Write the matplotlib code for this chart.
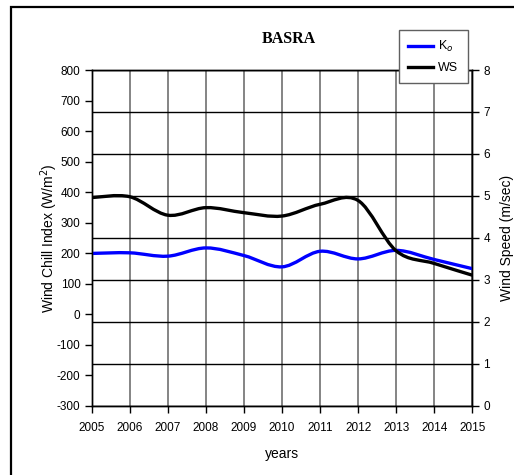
import numpy as np
import matplotlib.pyplot as plt
from matplotlib.path import Path
from matplotlib.patches import PathPatch, Rectangle
from matplotlib.lines import Line2D

plt.rcParams['font.family'] = ['Liberation Sans', 'DejaVu Sans']
plt.rcParams['axes.unicode_minus'] = False

# Data
years = [2005, 2006, 2007, 2008, 2009, 2010, 2011, 2012, 2013, 2014, 2015]
ko = [199, 201, 190, 217, 192, 155, 206, 181, 209, 179, 149]          # W/m2, left axis
ws = [4.96, 4.98, 4.54, 4.72, 4.60, 4.52, 4.80, 4.89, 3.69, 3.39, 3.11]  # m/sec, right axis

left_ticks = [-300, -200, -100, 0, 100, 200, 300, 400, 500, 600, 700, 800]
right_ticks = [0, 1, 2, 3, 4, 5, 6, 7, 8]


# Excel-like smoothed line: bezier segments through the data points
def smooth_path(x, y):
    pts = np.column_stack([x, y]).astype(float)
    n = len(pts)
    verts = [pts[0]]
    codes = [Path.MOVETO]
    for i in range(n - 1):
        p0 = pts[max(i - 1, 0)]
        p1 = pts[i]
        p2 = pts[i + 1]
        p3 = pts[min(i + 2, n - 1)]
        verts += [p1 + (p2 - p0) / 6, p2 - (p3 - p1) / 6, p2]
        codes += [Path.CURVE4] * 3
    return Path(verts, codes)


fig = plt.figure(figsize=(5.14, 4.75), dpi=100)
ax = fig.add_axes([0.1784, 0.1459, 0.7405, 0.7067])
ax2 = ax.twinx()

# Left axis (wind chill)
ax.set_xlim(2005, 2015)
ax.set_ylim(-300, 800)
ax.set_yticks(left_ticks)
ax.set_xticks(years)
ax.xaxis.grid(True, color='#707070', lw=1.2)
ax.tick_params(axis='both', labelsize=8.5, length=5, width=1, direction='out', pad=3)
ax.tick_params(axis='x', pad=7)
ax.set_ylabel('Wind Chill Index (W/m$^2$)', fontsize=10, labelpad=-2)
ax.set_xlabel('years', fontsize=10, labelpad=9)

# Right axis (wind speed)
ax2.set_ylim(0, 8)
ax2.set_yticks(right_ticks)
ax2.yaxis.grid(True, color='black', lw=1.0)
ax2.tick_params(axis='y', labelsize=8.5, length=5, width=1, direction='out', pad=3)
ax2.set_ylabel('Wind Speed (m/sec)', fontsize=10, labelpad=7)

for a in (ax, ax2):
    for s in a.spines.values():
        s.set_linewidth(1.0)
        s.set_color('black')
ax.set_axisbelow(True)

ax.add_patch(PathPatch(smooth_path(years, ko), fill=False, edgecolor='#0000ff',
                       lw=2.4, capstyle='butt', zorder=3))
ax2.add_patch(PathPatch(smooth_path(years, ws), fill=False, edgecolor='black',
                        lw=2.4, capstyle='butt', zorder=3))

# Title
fig.text(0.561, 0.918, 'BASRA', family=['Liberation Serif', 'DejaVu Serif'],
         fontweight='bold', fontsize=11.5, ha='center', va='center')

# Legend
handles = [Line2D([], [], color='#0000ff', lw=2.4), Line2D([], [], color='black', lw=2.4)]
leg = fig.legend(handles, ['K$_o$', 'WS'], loc='upper left',
                 bbox_to_anchor=(399 / 514, 1 - 30 / 475), fontsize=9,
                 handlelength=1.95, handletextpad=0.45, borderpad=0.75,
                 labelspacing=0.6, borderaxespad=0,
                 fancybox=False, framealpha=1, edgecolor='#606060')
leg.get_frame().set_linewidth(1.0)

# Outer frame around the chart
fig.patches.append(Rectangle((11 / 514, -0.1), 1.2, 1.1 - 7 / 475,
                             transform=fig.transFigure, fill=False,
                             edgecolor='black', lw=1.6))

fig.savefig('out.png', dpi=100)
